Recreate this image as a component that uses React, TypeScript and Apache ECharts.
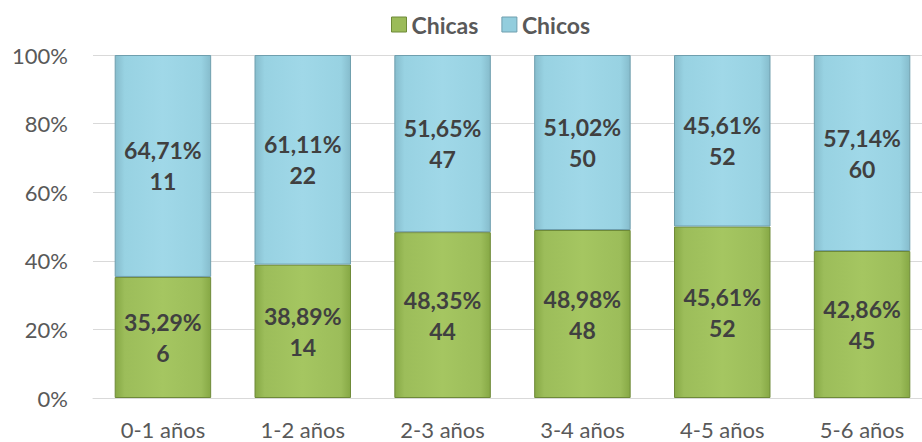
import React, { useEffect, useRef } from "react";
import * as echarts from "echarts";

const categories = ["0-1 años", "1-2 años", "2-3 años", "3-4 años", "4-5 años", "5-6 años"];
const chicasCount = [6, 14, 44, 48, 52, 45];
const chicosCount = [11, 22, 47, 50, 52, 60];
const chicasPctLabels = ["35,29%", "38,89%", "48,35%", "48,98%", "45,61%", "42,86%"];
const chicosPctLabels = ["64,71%", "61,11%", "51,65%", "51,02%", "45,61%", "57,14%"];
const yTicks = [0, 20, 40, 60, 80, 100];

export default function App() {
  const ref = useRef<HTMLDivElement>(null);
  useEffect(() => {
    document.body.style.margin = "0";
    if (!ref.current) return;
    const chart = echarts.init(ref.current, null, { renderer: "svg" });
    const total = chicasCount.map((v, i) => v + chicosCount[i]);
    const chicasPct = chicasCount.map((v, i) => (v / total[i]) * 100);
    const chicosPct = chicosCount.map((v, i) => (v / total[i]) * 100);
    const font = "Lato, sans-serif";
    const green = new echarts.graphic.LinearGradient(0, 0, 1, 0, [
      { offset: 0, color: "#86a845" },
      { offset: 0.1, color: "#9cbd5a" },
      { offset: 0.5, color: "#a5c661" },
      { offset: 0.9, color: "#9cbd5a" },
      { offset: 1, color: "#86a845" },
    ]);
    const blue = new echarts.graphic.LinearGradient(0, 0, 1, 0, [
      { offset: 0, color: "#86bccc" },
      { offset: 0.1, color: "#98d2e2" },
      { offset: 0.5, color: "#a0d8e8" },
      { offset: 0.9, color: "#98d2e2" },
      { offset: 1, color: "#86bccc" },
    ]);
    const label = (pcts: string[], counts: number[]) => ({
      show: true,
      position: "inside" as const,
      formatter: (p: any) => `${pcts[p.dataIndex]}\n${counts[p.dataIndex]}`,
      fontFamily: font,
      fontWeight: "bold" as const,
      fontSize: 23,
      lineHeight: 31,
      color: "#404040",
    });
    chart.setOption({
      animation: false,
      legend: {
        top: 8,
        left: 386,
        icon: "rect",
        itemWidth: 15,
        itemHeight: 15,
        itemGap: 23,
        textStyle: { fontFamily: font, fontWeight: "bold", fontSize: 23, color: "#595959" },
        data: [
          { name: "Chicas", itemStyle: { color: "#9bbb59", borderColor: "#6e8a38", borderWidth: 1 } },
          { name: "Chicos", itemStyle: { color: "#93cddd", borderColor: "#6f9fae", borderWidth: 1 } },
        ],
      },
      grid: { left: 93, right: 8, top: 55, bottom: 44 },
      xAxis: {
        type: "category",
        data: categories,
        axisLine: { lineStyle: { color: "#d9d9d9", width: 1 } },
        axisTick: { show: false },
        axisLabel: { fontFamily: font, fontSize: 22, color: "#595959", margin: 20 },
      },
      yAxis: {
        type: "value",
        min: 0,
        max: 100,
        interval: 20,
        axisLine: { show: false },
        axisTick: { show: false },
        splitLine: { lineStyle: { color: "#d9d9d9" } },
        axisLabel: {
          fontFamily: font,
          fontSize: 22,
          color: "#595959",
          margin: 25,
          formatter: (v: number) => (yTicks.includes(v) ? `${v}%` : ""),
        },
      },
      series: [
        {
          name: "Chicas",
          type: "bar",
          stack: "t",
          barWidth: "69%",
          data: chicasPct,
          itemStyle: { color: green, borderColor: "#6e8a38", borderWidth: 1 },
          label: label(chicasPctLabels, chicasCount),
        },
        {
          name: "Chicos",
          type: "bar",
          stack: "t",
          barWidth: "69%",
          data: chicosPct,
          itemStyle: { color: blue, borderColor: "#6f9fae", borderWidth: 1 },
          label: label(chicosPctLabels, chicosCount),
        },
      ],
    });
    return () => chart.dispose();
  }, []);
  return (
    <div style={{ width: 922, height: 442, overflow: "hidden" }}>
      <div ref={ref} style={{ width: 940, height: 442 }} />
    </div>
  );
}
